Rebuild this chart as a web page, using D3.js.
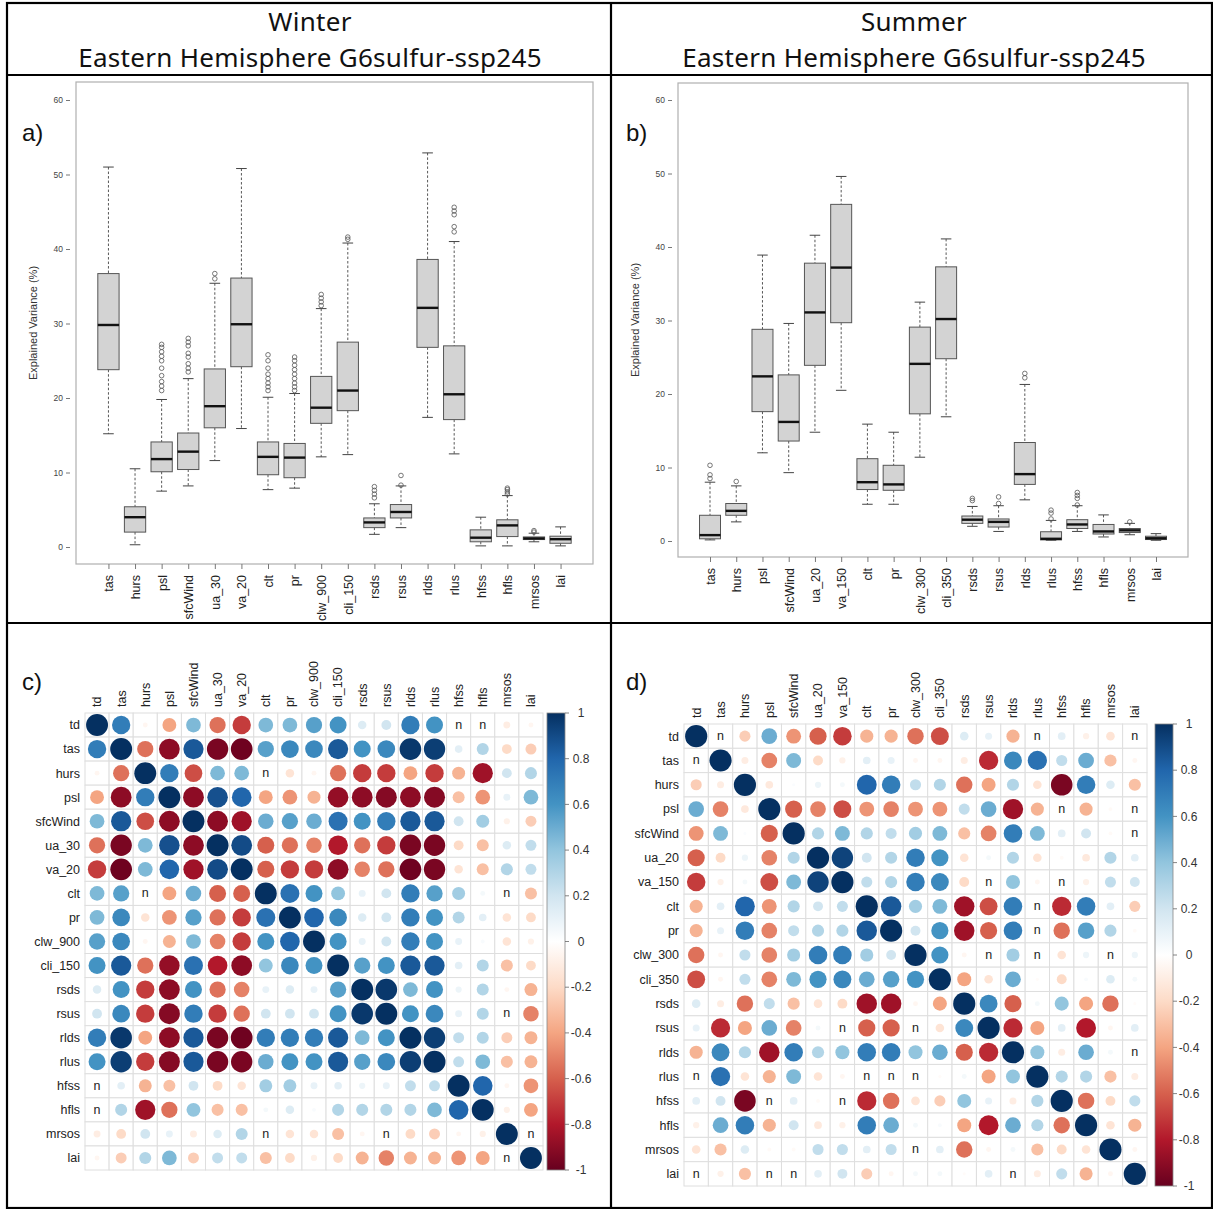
<!DOCTYPE html>
<html>
<head>
<meta charset="utf-8">
<script src="https://cdn.jsdelivr.net/npm/d3@7"></script>
<style>
body { margin: 0; background: #fff; }
text { font-family: "Liberation Sans", Arial, sans-serif; }
</style>
</head>
<body>
<script>
// ---- boxplot data, panel a (Winter) ----
var boxVarsA = ["tas","hurs","psl","sfcWind","ua_30","va_20","clt","pr","clw_900","cli_150","rsds","rsus","rlds","rlus","hfss","hfls","mrsos","lai"];
var lowA  = [15.2, 0.3, 7.5, 8.2, 11.6, 15.9, 7.7, 7.9, 12.1, 12.4, 1.7, 2.6, 17.4, 12.5, 0.15, 0.15, 0.7, 0.15];
var q1A   = [23.8, 2.0, 10.1, 10.4, 16.0, 24.2, 9.7, 9.3, 16.6, 18.3, 2.6, 3.9, 26.8, 17.1, 0.7, 1.4, 1.0, 0.5];
var medA  = [29.8, 4.0, 11.8, 12.8, 18.9, 29.9, 12.1, 12.0, 18.7, 21.0, 3.3, 4.7, 32.1, 20.5, 1.25, 2.9, 1.15, 1.05];
var q3A   = [36.7, 5.4, 14.1, 15.3, 23.9, 36.1, 14.1, 13.9, 22.9, 27.5, 3.9, 5.7, 38.6, 27.0, 2.3, 3.65, 1.35, 1.45];
var highA = [51.0, 10.5, 19.8, 22.6, 35.4, 50.8, 20.1, 20.6, 32.0, 40.8, 5.8, 8.2, 52.9, 41.0, 4.0, 6.9, 1.85, 2.7];
var outA  = [[], [], [21,21.6,22.2,23,24,25,25.6,26.2,26.8,27.2], [23.5,24,24.6,25.5,26,27,27.5,28], [36,36.7], [],
             [21,21.5,22,22.6,23.2,24,25,25.8], [21,21.5,22,22.6,23.2,23.8,24.4,25,25.5], [32.4,32.9,33.4,33.9], [41.3,41.6],
             [6.6,7.1,7.6,8.1], [8.3,9.6], [], [42.3,43,44.6,45.1,45.6], [], [7.1,7.4,7.7,7.9], [2.0,2.2], []];

// ---- boxplot data, panel b (Summer) ----
var boxVarsB = ["tas","hurs","psl","sfcWind","ua_20","va_150","clt","pr","clw_300","cli_350","rsds","rsus","rlds","rlus","hfss","hfls","mrsos","lai"];
var lowB  = [0.15, 2.6, 12.0, 9.3, 14.8, 20.5, 5.0, 5.0, 11.4, 16.9, 2.0, 1.3, 5.6, 0.1, 1.3, 0.55, 0.85, 0.1];
var q1B   = [0.3, 3.5, 17.6, 13.6, 23.9, 29.7, 7.0, 6.9, 17.3, 24.8, 2.4, 1.9, 7.7, 0.15, 1.7, 0.95, 1.15, 0.2];
var medB  = [0.8, 4.1, 22.4, 16.2, 31.1, 37.2, 8.0, 7.7, 24.1, 30.2, 2.9, 2.6, 9.1, 0.3, 2.25, 1.3, 1.45, 0.37];
var q3B   = [3.5, 5.1, 28.8, 22.6, 37.8, 45.8, 11.2, 10.3, 29.1, 37.3, 3.4, 3.0, 13.4, 1.26, 2.9, 2.25, 1.7, 0.65];
var highB = [8.0, 7.5, 38.9, 29.6, 41.6, 49.6, 15.9, 14.8, 32.5, 41.1, 4.7, 4.8, 21.3, 2.8, 4.8, 3.55, 2.4, 1.0];
var outB  = [[8.5,9.0,10.3], [8.1], [], [], [], [], [], [], [], [],
             [5.5,5.8], [5.1,6.0], [22.2,22.8], [3.0,3.8,4.2], [4.9,5.8,6.2,6.6], [], [2.6], []];

// ---- correlation matrices ('n' = not significant) ----
var n = null;
var corrVarsC = ["td","tas","hurs","psl","sfcWind","ua_30","va_20","clt","pr","clw_900","cli_150","rsds","rsus","rlds","rlus","hfss","hfls","mrsos","lai"];
var corrC = [
 [1, .7, -.05, -.4, .45, -.55, -.7, .45, .45, .55, .6, .15, .2, .7, .6, n, n, -.1, -.05],
 [.7, 1, -.55, -.9, .85, -.95, -.98, .55, .65, .65, .85, .6, .65, .97, .95, .12, .3, -.2, -.25],
 [-.05, -.55, 1, .7, -.65, .45, .45, n, -.15, -.05, -.55, -.7, -.7, -.4, -.7, -.35, -.85, .2, .3],
 [-.4, -.9, .7, 1, -.9, .88, .8, -.4, -.45, -.35, -.88, -.9, -.92, -.9, -.92, -.3, -.45, .1, .45],
 [.45, .85, -.65, -.9, 1, -.9, -.85, .5, .55, .5, .75, .6, .7, .85, .85, .2, .35, -.08, -.25],
 [-.55, -.95, .45, .88, -.9, 1, .9, -.6, -.55, -.5, -.8, -.55, -.7, -.95, -.95, -.2, -.3, .15, .25],
 [-.7, -.98, .45, .8, -.85, .9, 1, -.6, -.7, -.7, -.9, -.5, -.55, -.98, -.95, -.15, -.3, .3, .25],
 [.45, .55, n, -.4, .5, -.6, -.6, 1, .75, .6, .4, .1, .2, .7, .55, .35, .05, n, -.3],
 [.45, .65, -.15, -.45, .55, -.55, -.7, .75, 1, .8, .65, .15, .2, .7, .6, .3, .12, -.15, -.2],
 [.55, .65, -.05, -.35, .45, -.5, -.7, .6, .8, 1, .6, .1, .2, .7, .6, .1, .03, -.15, -.08],
 [.6, .85, -.55, -.88, .75, -.8, -.9, .4, .65, .6, 1, .55, .6, .85, .85, .12, .3, -.3, -.2],
 [.15, .6, -.7, -.9, .6, -.55, -.5, .1, .15, .1, .55, 1, .97, .45, .6, .08, .3, -.05, -.35],
 [.2, .65, -.7, -.92, .7, -.7, -.55, .2, .2, .2, .6, .97, 1, .6, .65, .1, .3, n, -.5],
 [.7, .97, -.4, -.9, .85, -.95, -.98, .7, .7, .7, .85, .45, .6, 1, .95, .25, .3, -.25, -.35],
 [.6, .95, -.7, -.92, .85, -.95, -.95, .5, .6, .6, .85, .55, .65, .95, 1, .25, .45, -.3, -.35],
 [n, .12, -.35, -.3, .2, -.2, -.15, .35, .35, .1, .12, .08, .1, .25, .25, 1, .8, -.05, -.45],
 [n, .3, -.85, -.55, .4, -.3, -.3, .05, .15, .03, .3, .3, .3, .3, .45, .8, 1, -.08, -.4],
 [-.1, -.2, .2, .1, -.1, .15, .3, n, -.15, -.15, -.3, -.05, n, -.2, -.25, -.05, -.08, 1, n],
 [-.05, -.25, .3, .45, -.25, .25, .25, -.3, -.2, -.08, -.2, -.35, -.5, -.35, -.35, -.45, -.4, n, 1]
];
var corrVarsD = ["td","tas","hurs","psl","sfcWind","ua_20","va_150","clt","pr","clw_300","cli_350","rsds","rsus","rlds","rlus","hfss","hfls","mrsos","lai"];
var corrD = [
 [1, n, -.25, .5, -.45, -.6, -.7, -.35, -.35, -.55, -.65, .15, .1, -.35, n, .12, -.08, -.15, n],
 [n, 1, -.1, -.5, .45, -.2, -.08, .12, .1, -.05, -.05, -.1, -.75, .65, .75, .25, .5, -.3, -.05],
 [-.25, -.1, 1, -.12, .02, .08, .05, .8, .7, .25, .3, -.55, -.4, .3, -.15, -.95, .7, .15, -.3],
 [.5, -.5, -.12, 1, -.6, -.5, -.65, -.45, -.5, -.45, -.45, .25, .5, -.85, -.35, n, -.35, -.03, n],
 [-.45, .45, .02, -.6, 1, .3, .45, .3, .25, .35, .45, -.3, -.5, .7, .45, .12, .2, -.03, n],
 [-.6, -.2, .08, -.5, .3, 1, .93, .2, .3, .7, .6, -.15, .05, .3, -.15, -.03, -.12, .3, .12],
 [-.7, -.08, .05, -.65, .45, .93, 1, .25, .3, .7, .65, -.2, n, .4, -.05, n, -.08, .25, .2],
 [-.35, .12, .8, -.45, .3, .2, .25, 1, .85, .35, .45, -.85, -.65, .7, n, -.75, .7, .12, -.25],
 [-.35, .1, .7, -.5, .25, .3, .3, .85, 1, .2, .6, -.85, -.6, .7, n, -.55, .55, .3, -.03],
 [-.55, -.05, .25, -.5, .35, .7, .7, .35, .2, 1, .6, -.05, n, .35, n, -.15, .08, n, .08],
 [-.65, -.05, .25, -.5, .45, .6, .65, .5, .55, .6, 1, -.4, -.15, .5, -.02, -.2, .03, .15, .05],
 [.15, -.1, -.55, .25, -.3, -.15, -.2, -.85, -.85, -.05, -.4, 1, .65, -.6, .05, .4, -.4, -.55, -.02],
 [.1, -.75, -.4, .5, -.5, .05, n, -.6, -.6, n, -.15, .65, 1, -.75, -.4, .12, -.8, -.05, .12],
 [-.35, .65, .3, -.85, .7, .3, .4, .7, .7, .4, .5, -.6, -.75, 1, .4, -.1, .5, .05, n],
 [n, .75, -.15, -.35, .45, -.15, -.05, n, n, n, -.02, .05, -.4, .4, 1, .3, .3, -.3, -.1],
 [.12, .2, -.95, n, .12, -.03, n, -.75, -.55, -.15, -.25, .4, .1, -.1, .3, 1, -.55, -.2, .25],
 [-.08, .5, .7, -.35, .2, -.12, -.08, .7, .5, .05, .03, -.4, -.8, .5, .3, -.55, 1, -.15, -.35],
 [-.15, -.3, .15, -.03, -.03, .25, .25, .12, .25, n, .12, -.55, -.05, .05, -.3, -.2, -.15, 1, -.05],
 [n, -.08, -.3, n, n, .12, .2, -.25, -.05, .05, .05, -.02, .12, n, -.1, .25, -.35, -.05, 1]
];
var legendTicks = [1, 0.8, 0.6, 0.4, 0.2, 0, -0.2, -0.4, -0.6, -0.8, -1];
var yTicks = [0, 10, 20, 30, 40, 50, 60];

// RdBu palette as corrplot uses it
var rdbu = ["#67001F","#B2182B","#D6604D","#F4A582","#FDDBC7","#FFFFFF","#D1E5F0","#92C5DE","#4393C3","#2166AC","#053061"];
var color = d3.scaleLinear().domain(d3.range(11).map(function(i){ return -1 + i*0.2; })).range(rdbu);

var svg = d3.select("body").append("svg").attr("width", 1213).attr("height", 1209);
svg.append("rect").attr("width", 1213).attr("height", 1209).attr("fill", "#fff");

// ---- table frame + titles ----
var grid = svg.append("g").attr("stroke", "#000").attr("stroke-width", 2.2);
grid.append("rect").attr("x", 7).attr("y", 3).attr("width", 1205).attr("height", 1205).attr("fill", "none");
grid.append("line").attr("x1", 7).attr("x2", 1212).attr("y1", 75).attr("y2", 75);
grid.append("line").attr("x1", 7).attr("x2", 1212).attr("y1", 623).attr("y2", 623);
grid.append("line").attr("x1", 611).attr("x2", 611).attr("y1", 3).attr("y2", 1208);

[["Winter", 310], ["Summer", 914]].forEach(function(t){
  var g = svg.append("g").attr("font-size", 26).attr("text-anchor", "middle").attr("fill", "#111");
  g.append("text").attr("x", t[1]).attr("y", 31).style("font-family", "'Noto Sans', sans-serif").style("letter-spacing", "0.3px").text(t[0]);
  g.append("text").attr("x", t[1]).attr("y", 67).style("font-family", "'Noto Sans', sans-serif").style("letter-spacing", "0.3px").text("Eastern Hemisphere G6sulfur-ssp245");
});

[["a)", 22, 141], ["b)", 626, 141], ["c)", 22, 690], ["d)", 626, 690]].forEach(function(p){
  svg.append("text").attr("x", p[1]).attr("y", p[2]).attr("font-size", 24).attr("fill", "#111").text(p[0]);
});

// ---- boxplot panel ----
function boxPanel(vars, low, q1, med, q3, high, out, f){
  var x = d3.scaleLinear().domain([-0.22, vars.length + 1.22]).range([f.x0, f.x1]);
  var y = d3.scaleLinear().domain([0, 60]).range([f.zero, f.sixty]);
  var g = svg.append("g");

  g.append("rect").attr("x", f.x0).attr("y", f.y0).attr("width", f.x1 - f.x0).attr("height", f.y1 - f.y0)
    .attr("fill", "none").attr("stroke", "#b0b0b0").attr("stroke-width", 1.2);

  var yAxis = g.append("g").attr("transform", "translate(" + (f.x0 - 6) + ",0)")
    .call(d3.axisLeft(y).tickValues(yTicks).tickSize(4).tickPadding(3));
  yAxis.select(".domain").remove();
  yAxis.selectAll("line").attr("stroke", "#777");
  yAxis.selectAll("text").attr("font-size", 8.5).attr("fill", "#444").style("font-family", "'Liberation Sans', Arial, sans-serif");

  var xAxis = g.append("g").attr("transform", "translate(0," + f.y1 + ")")
    .call(d3.axisBottom(x).tickValues(d3.range(1, vars.length + 1)).tickFormat(function(d){ return vars[d - 1]; }).tickSize(5));
  xAxis.select(".domain").remove();
  xAxis.selectAll("line").attr("stroke", "#777");
  xAxis.selectAll("text").attr("transform", "rotate(-90)").attr("text-anchor", "end")
    .attr("x", -11).attr("y", 0).attr("dy", "0.35em")
    .attr("font-size", 12.5).attr("fill", "#222").style("font-family", "'Liberation Sans', Arial, sans-serif");

  g.append("text").attr("transform", "translate(" + f.labelX + "," + ((f.y0 + f.y1) / 2) + ") rotate(-90)")
    .attr("text-anchor", "middle").attr("font-size", 11).attr("fill", "#333").text("Explained Variance (%)");

  var bw = (x(1) - x(0)) * 0.8;
  vars.forEach(function(v, i){
    var cx = x(i + 1);
    var b = g.append("g");
    // whiskers
    b.append("line").attr("x1", cx).attr("x2", cx).attr("y1", y(high[i])).attr("y2", y(q3[i]))
      .attr("stroke", "#444").attr("stroke-width", 0.9).attr("stroke-dasharray", "2.5,2");
    b.append("line").attr("x1", cx).attr("x2", cx).attr("y1", y(q1[i])).attr("y2", y(low[i]))
      .attr("stroke", "#444").attr("stroke-width", 0.9).attr("stroke-dasharray", "2.5,2");
    [high[i], low[i]].forEach(function(w){
      b.append("line").attr("x1", cx - bw / 4).attr("x2", cx + bw / 4).attr("y1", y(w)).attr("y2", y(w))
        .attr("stroke", "#444").attr("stroke-width", 1);
    });
    b.append("rect").attr("x", cx - bw / 2).attr("width", bw)
      .attr("y", y(q3[i])).attr("height", Math.max(1, y(q1[i]) - y(q3[i])))
      .attr("fill", "#d3d3d3").attr("stroke", "#555").attr("stroke-width", 1);
    b.append("line").attr("x1", cx - bw / 2).attr("x2", cx + bw / 2).attr("y1", y(med[i])).attr("y2", y(med[i]))
      .attr("stroke", "#111").attr("stroke-width", 2.4);
    b.selectAll("circle").data(out[i]).join("circle")
      .attr("cx", cx).attr("cy", function(d){ return y(d); }).attr("r", 2.3)
      .attr("fill", "none").attr("stroke", "#555").attr("stroke-width", 0.8);
  });
}

boxPanel(boxVarsA, lowA, q1A, medA, q3A, highA, outA, {x0: 76, x1: 593, y0: 82, y1: 564, zero: 547, sixty: 100, labelX: 37});
boxPanel(boxVarsB, lowB, q1B, medB, q3B, highB, outB, {x0: 678, x1: 1188, y0: 83, y1: 557, zero: 541, sixty: 100, labelX: 639});

// ---- correlation panel ----
function corrPanel(vars, mat, f){
  var x = d3.scaleBand().domain(vars).range([f.x0, f.x1]);
  var y = d3.scaleBand().domain(vars).range([f.y0, f.y1]);
  var cw = x.bandwidth(), ch = y.bandwidth();
  var g = svg.append("g");

  var cells = [];
  mat.forEach(function(row, i){ row.forEach(function(v, j){ cells.push({r: vars[i], c: vars[j], v: v}); }); });

  g.selectAll("rect.cell").data(cells).join("rect").attr("class", "cell")
    .attr("x", function(d){ return x(d.c); }).attr("y", function(d){ return y(d.r); })
    .attr("width", cw).attr("height", ch).attr("fill", "#fff").attr("stroke", "#dedede").attr("stroke-width", 1);

  g.selectAll("circle").data(cells.filter(function(d){ return d.v !== null; })).join("circle")
    .attr("cx", function(d){ return x(d.c) + cw / 2; }).attr("cy", function(d){ return y(d.r) + ch / 2; })
    .attr("r", function(d){ return Math.sqrt(Math.abs(d.v)) * cw * 0.455; })
    .attr("fill", function(d){ return color(d.v); });

  g.selectAll("text.n").data(cells.filter(function(d){ return d.v === null; })).join("text").attr("class", "n")
    .attr("x", function(d){ return x(d.c) + cw / 2; }).attr("y", function(d){ return y(d.r) + ch / 2; })
    .attr("dy", "0.3em").attr("text-anchor", "middle").attr("font-size", 12.5).attr("fill", "#222").text("n");

  g.selectAll("text.rowlab").data(vars).join("text").attr("class", "rowlab")
    .attr("x", f.x0 - 5).attr("y", function(d){ return y(d) + ch / 2; }).attr("dy", "0.35em")
    .attr("text-anchor", "end").attr("font-size", 12.5).attr("fill", "#222").text(function(d){ return d; });

  g.selectAll("text.collab").data(vars).join("text").attr("class", "collab")
    .attr("transform", function(d){ return "translate(" + (x(d) + cw / 2) + "," + (f.y0 - 6) + ") rotate(-90)"; })
    .attr("dy", "0.35em").attr("text-anchor", "start").attr("font-size", 12.5).attr("fill", "#222").text(function(d){ return d; });

  // colour bar
  var gid = "grad" + f.id;
  var grad = svg.append("defs").append("linearGradient").attr("id", gid)
    .attr("x1", 0).attr("x2", 0).attr("y1", 0).attr("y2", 1);
  d3.range(0, 1.0001, 0.05).forEach(function(t){
    grad.append("stop").attr("offset", t).attr("stop-color", color(1 - 2 * t));
  });
  var ly = d3.scaleLinear().domain([1, -1]).range([f.y0, f.y1]);
  g.append("rect").attr("x", f.lx).attr("y", f.y0).attr("width", 18).attr("height", f.y1 - f.y0)
    .attr("fill", "url(#" + gid + ")").attr("stroke", "#888").attr("stroke-width", 0.8);
  g.selectAll("line.lt").data(legendTicks).join("line").attr("class", "lt")
    .attr("x1", f.lx + 18).attr("x2", f.lx + 22).attr("y1", function(d){ return ly(d); }).attr("y2", function(d){ return ly(d); })
    .attr("stroke", "#666").attr("stroke-width", 0.8);
  g.selectAll("text.lt").data(legendTicks).join("text").attr("class", "lt")
    .attr("x", f.lx + 34).attr("y", function(d){ return ly(d); }).attr("dy", "0.35em")
    .attr("text-anchor", "middle").attr("font-size", 12).attr("fill", "#333").text(function(d){ return d; });
}

corrPanel(corrVarsC, corrC, {id: "c", x0: 85, x1: 543, y0: 713, y1: 1170, lx: 547});
corrPanel(corrVarsD, corrD, {id: "d", x0: 684, x1: 1147, y0: 724, y1: 1186, lx: 1155});
</script>
</body>
</html>
